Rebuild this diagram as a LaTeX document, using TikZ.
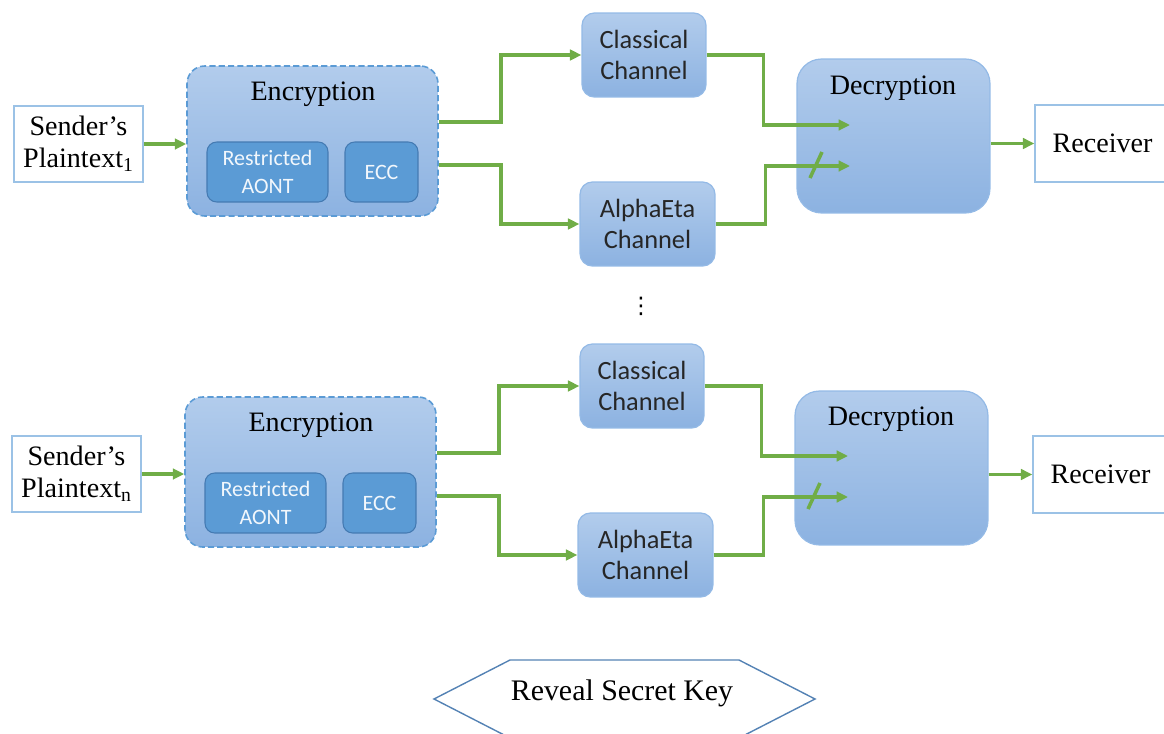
\documentclass[tikz,border=0pt]{standalone}
\usepackage{fontspec}
\setmainfont{Liberation Serif}
\newfontfamily\calibri{Carlito}
\newfontfamily\dejavu{DejaVu Sans}
\usetikzlibrary{arrows.meta}

\definecolor{boxtop}{RGB}{178,204,236}
\definecolor{boxbot}{RGB}{140,178,225}
\definecolor{boxline}{RGB}{148,186,230}
\definecolor{encline}{RGB}{91,155,213}
\definecolor{subfill}{RGB}{91,155,213}
\definecolor{subline}{RGB}{68,122,178}
\definecolor{flowgreen}{RGB}{112,173,71}
\definecolor{ioline}{RGB}{155,194,230}
\definecolor{keyline}{RGB}{84,130,180}

\tikzset{
  serif/.style={font=\fontsize{16}{18}\selectfont},
  iobox/.style={draw=ioline, line width=0.8pt, fill=white, inner sep=0pt,
    minimum width=2.58cm, minimum height=1.52cm, align=center, serif},
  encbox/.style={draw=encline, dashed, dash pattern=on 3.5pt off 1.8pt,
    line width=0.9pt, rounded corners=10pt, top color=boxtop, bottom color=boxbot,
    minimum width=5.02cm, minimum height=3cm},
  chanbox/.style={draw=boxline, line width=0.7pt, rounded corners=7pt,
    top color=boxtop, bottom color=boxbot, inner sep=0pt, minimum width=2.48cm,
    minimum height=1.68cm, align=center, text=black!85,
    font=\calibri\fontsize{15}{17.6}\selectfont},
  decbox/.style={draw=boxline, line width=0.7pt, rounded corners=14pt,
    top color=boxtop, bottom color=boxbot, minimum width=3.86cm, minimum height=3.08cm},
  subbox/.style={draw=subline, line width=0.6pt, rounded corners=5.5pt, fill=subfill,
    inner sep=0pt, minimum height=1.2cm, align=center, text=white!92!subfill,
    font=\calibri\fontsize{12.5}{15.5}\selectfont},
  flow/.style={draw=flowgreen, line width=2pt, -{Triangle[length=6.5pt,width=6pt]}},
}

\begin{document}
\begin{tikzpicture}[x=0.02cm, y=-0.02cm]
\useasboundingbox (0,0) rectangle (1164,734);

% Nodes (first link)
\node[iobox] (s1) at (78.5,144) {Sender’s\\Plaintext\textsubscript{1}};
\node[encbox] (enc1) at (312.5,141) {};
\node[serif] (enc1t) at (313,94) {Encryption};
\node[subbox, minimum width=2.42cm] (aont1) at (267.5,172) {Restricted\\AONT};
\node[subbox, minimum width=1.46cm] (ecc1) at (381.5,172) {ECC};
\node[chanbox] (cl1) at (644,55) {Classical\\Channel};
\node[chanbox, minimum width=2.7cm] (ae1) at (647.5,224) {AlphaEta\\Channel};
\node[decbox] (dec1) at (893.5,136) {};
\node[serif] (dec1t) at (893,88) {Decryption};
\node[iobox, minimum width=2.8cm, minimum height=1.54cm] (rx1) at (1105,143.5) {\hspace*{-0.1cm}Receiver};
\coordinate (d1a) at (850,125);
\coordinate (d1b) at (850,166);

% Nodes (last link)
\node[iobox] (s2) at (76.5,474) {Sender’s\\Plaintext\textsubscript{n}};
\node[encbox] (enc2) at (310.5,472) {};
\node[serif] (enc2t) at (311,425) {Encryption};
\node[subbox, minimum width=2.42cm] (aont2) at (265.5,503) {Restricted\\AONT};
\node[subbox, minimum width=1.46cm] (ecc2) at (379.5,503) {ECC};
\node[chanbox] (cl2) at (642,386) {Classical\\Channel};
\node[chanbox, minimum width=2.7cm] (ae2) at (645.5,555) {AlphaEta\\Channel};
\node[decbox] (dec2) at (891.5,468) {};
\node[serif] (dec2t) at (891,419) {Decryption};
\node[iobox, minimum width=2.8cm, minimum height=1.54cm] (rx2) at (1103,474.5) {\hspace*{-0.1cm}Receiver};
\coordinate (d2a) at (848,456);
\coordinate (d2b) at (848,497);

\node[font=\dejavu\fontsize{13}{15}\selectfont] (dots) at (641,306) {⋮};

% Key release
\node[font=\fontsize{17}{20}\selectfont] (key) at (622,693) {Reveal Secret Key};
\draw[keyline, line width=0.8pt] (434,699) -- (510,660) -- (739,660) -- (815,699)
  -- (739,738) -- (510,738) -- cycle;

% Arrows
\draw[flow] (s1.east) -- (s1.east -| enc1.west);
\draw[flow] (enc1.east |- 0,122) -- ++(62,0) |- (cl1.west);
\draw[flow] (enc1.east |- 0,165) -- ++(62,0) |- (ae1.west);
\draw[flow] (cl1.east) -- ++(57,0) |- (d1a);
\draw[flow] (ae1.east) -- ++(50,0) |- (d1b);
\draw[flowgreen, line width=2pt] (816,165) +(-6,13) -- +(6,-13);
\draw[flow] (dec1.east |- rx1.west) -- (rx1.west);

\draw[flow] (s2.east) -- (s2.east -| enc2.west);
\draw[flow] (enc2.east |- 0,453) -- ++(62,0) |- (cl2.west);
\draw[flow] (enc2.east |- 0,496) -- ++(62,0) |- (ae2.west);
\draw[flow] (cl2.east) -- ++(57,0) |- (d2a);
\draw[flow] (ae2.east) -- ++(50,0) |- (d2b);
\draw[flowgreen, line width=2pt] (814,496) +(-6,13) -- +(6,-13);
\draw[flow] (dec2.east |- rx2.west) -- (rx2.west);

\end{tikzpicture}
\end{document}
